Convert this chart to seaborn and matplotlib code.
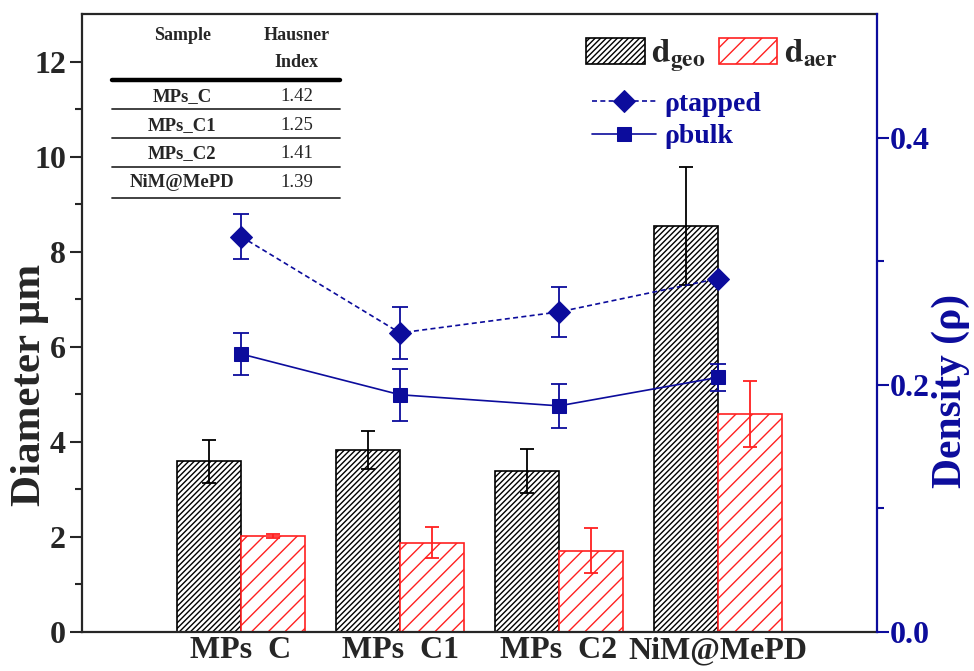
"""
plot.py - Parcacik boyutu (bar) ve yogunluk (cizgi) grafigi
"""

import numpy as np
import pandas as pd
import matplotlib
matplotlib.use("Agg")
import matplotlib.pyplot as plt
import seaborn as sns
from matplotlib.patches import Patch

# ---- veri ----
categories = ["MPs  C", "MPs  C1", "MPs  C2", "NiM@MePD"]
d_geo = [3.59, 3.82, 3.38, 8.55]
d_geo_err = [0.46, 0.40, 0.46, 1.24]
d_aer = [2.02, 1.88, 1.71, 4.59]
d_aer_err = [0.04, 0.33, 0.47, 0.70]

rho_tapped = [0.320, 0.242, 0.259, 0.286]
rho_tapped_err = [0.018, 0.021, 0.020, 0.0]
rho_bulk = [0.225, 0.192, 0.183, 0.206]
rho_bulk_err = [0.017, 0.021, 0.018, 0.011]

table_samples = ["MPs_C", "MPs_C1", "MPs_C2", "NiM@MePD"]
hausner = ["1.42", "1.25", "1.41", "1.39"]

BLUE = "#0c0c9c"
RED = "#ff2020"

sns.set_style("ticks")
plt.rcParams["font.family"] = ["Liberation Serif", "DejaVu Serif"]
plt.rcParams["font.weight"] = "bold"
plt.rcParams["mathtext.fontset"] = "stix"
plt.rcParams["hatch.linewidth"] = 1.0

fig, ax = plt.subplots(figsize=(9.74, 6.71), dpi=100)
fig.subplots_adjust(left=0.0842, right=0.9004, bottom=0.0581, top=0.979)

df = pd.DataFrame({
    "sample": categories * 2,
    "kind": ["geo"] * 4 + ["aer"] * 4,
    "value": d_geo + d_aer,
})
sns.barplot(data=df, x="sample", y="value", hue="kind", order=categories,
            hue_order=["geo", "aer"], palette={"geo": "white", "aer": "white"},
            width=0.8, errorbar=None, legend=False, saturation=1, ax=ax)

styles = [("black", "//////", d_geo_err), (RED, "//", d_aer_err)]
for cont, (col, hatch, errs) in zip(ax.containers, styles):
    for p, e in zip(cont.patches, errs):
        p.set_edgecolor(col)
        p.set_hatch(hatch)
        p.set_linewidth(1.2)
        xc = p.get_x() + p.get_width() / 2
        ax.errorbar(xc, p.get_height(), yerr=e, fmt="none", ecolor=col,
                    elinewidth=1.3, capsize=4.7, capthick=1.3, zorder=4)

ax.set_ylim(0, 13)
ax.set_xlim(-1, 4)
ax.set_yticks(range(0, 13, 2))
ax.set_yticks(range(1, 13, 2), minor=True)
ax.set_xlabel("")
ax.set_ylabel("Diameter \u03bcm", fontsize=31, fontweight="bold")
ax.yaxis.set_label_coords(-0.041, 0.40)
ax.tick_params(axis="y", which="major", length=8.5, width=1.5, labelsize=23, pad=3)
ax.tick_params(axis="y", which="minor", length=5, width=1.5)
ax.tick_params(axis="x", length=0, labelsize=23, pad=3)
for s in ["left", "bottom", "top"]:
    ax.spines[s].set_linewidth(1.6)
    ax.spines[s].set_visible(True)
ax.spines["right"].set_visible(False)

# ---- yogunluk ekseni ----
ax2 = ax.twinx()
x_pos = np.arange(len(categories))
sns.lineplot(x=x_pos, y=rho_tapped, ax=ax2, color=BLUE, marker="D",
             markersize=11, linewidth=1.2, linestyle=(0, (3, 2)),
             markeredgecolor=BLUE, zorder=5)
sns.lineplot(x=x_pos, y=rho_bulk, ax=ax2, color=BLUE, marker="s",
             markersize=10, linewidth=1.2, markeredgecolor=BLUE, zorder=5)
line_handles = list(ax2.lines[:2])
for vals, errs in [(rho_tapped, rho_tapped_err), (rho_bulk, rho_bulk_err)]:
    ax2.errorbar(x_pos, vals, yerr=errs, fmt="none", ecolor=BLUE,
                 elinewidth=1.3, capsize=5.5, capthick=1.3, zorder=5)

ax2.set_ylim(0, 0.5)
ax2.set_xlim(-1, 4)
ax2.set_yticks([0.0, 0.2, 0.4])
ax2.set_yticks([0.1, 0.3], minor=True)
ax2.set_yticklabels(["0.0", "0.2", "0.4"])
ax2.set_ylabel("Density (\u03c1)", fontsize=30, fontweight="bold", color=BLUE)
ax2.yaxis.set_label_coords(1.069, 0.39)
ax2.tick_params(axis="y", which="major", length=8.5, width=1.5, labelsize=23,
                colors=BLUE, pad=1)
ax2.tick_params(axis="y", which="minor", length=5, width=1.5, colors=BLUE)
ax2.spines["right"].set_color(BLUE)
ax2.spines["right"].set_linewidth(1.6)
for s in ["left", "bottom", "top"]:
    ax2.spines[s].set_visible(False)

# ---- lejantlar ----
bar_handles = [
    Patch(facecolor="white", edgecolor="black", hatch="//////", linewidth=1.2,
          label=r"$\mathbf{d_{geo}}$"),
    Patch(facecolor="white", edgecolor=RED, hatch="//", linewidth=1.2,
          label=r"$\mathbf{d_{aer}}$"),
]
leg1 = ax2.legend(handles=bar_handles, ncol=2, loc="upper left",
                  bbox_to_anchor=(0.605, 1.0), frameon=False, fontsize=24,
                  handlelength=1.75, handleheight=0.85, columnspacing=0.4,
                  handletextpad=0.2, borderaxespad=0.3)
ax2.add_artist(leg1)
leg2 = ax2.legend(line_handles, ["\u03c1tapped", "\u03c1bulk"], loc="upper left",
                  bbox_to_anchor=(0.61, 0.915), frameon=False, fontsize=20,
                  handlelength=2.3, handletextpad=0.3, labelspacing=0.25)
for t in leg2.get_texts():
    t.set_color(BLUE)

# ---- Hausner tablosu ----
tr = ax.transAxes
x0, x1 = 0.038, 0.325
col_s, col_h = 0.126, 0.270
ax.text(col_s, 0.966, "Sample", transform=tr, ha="center", va="center",
        fontsize=13, fontweight="bold")
ax.text(col_h, 0.966, "Hausner", transform=tr, ha="center", va="center",
        fontsize=13, fontweight="bold")
ax.text(col_h, 0.921, "Index", transform=tr, ha="center", va="center",
        fontsize=13, fontweight="bold")
ax.plot([x0, x1], [0.893, 0.893], transform=tr, color="black", lw=3.2,
        clip_on=False)
row_y = [0.867, 0.820, 0.775, 0.728]
line_y = [0.846, 0.799, 0.752, 0.702]
for name, h, ry, ly in zip(table_samples, hausner, row_y, line_y):
    ax.text(col_s, ry, name, transform=tr, ha="center", va="center",
            fontsize=13.5, fontweight="bold")
    ax.text(col_h, ry, h, transform=tr, ha="center", va="center",
            fontsize=13.5, fontweight="normal")
    ax.plot([x0, x1], [ly, ly], transform=tr, color="#333333", lw=1.3)

fig.savefig("out.png", dpi=100)
plt.close(fig)
